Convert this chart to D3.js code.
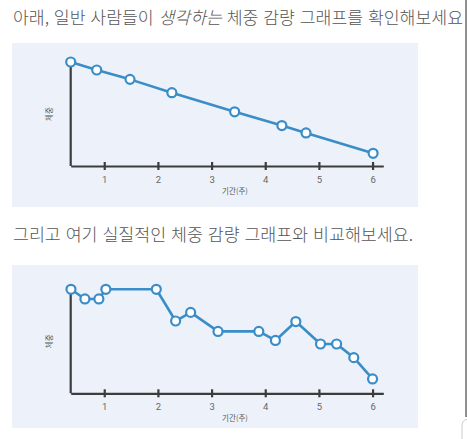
<!DOCTYPE html>
<html lang="ko">
<head>
<meta charset="UTF-8">
<title>체중 감량 그래프</title>
<style>
  body { margin: 0; background: #fff; }
  svg { display: block; }
  text { font-family: "Noto Sans CJK KR", "Noto Sans", sans-serif; }
</style>
<script src="https://cdn.jsdelivr.net/npm/d3@7"></script>
</head>
<body>
<script>
// 데이터 (주, 상대 체중)
const weekTicks = [1, 2, 3, 4, 5, 6];
const idealWeeks = [0.375, 0.86, 1.48, 2.26, 3.43, 4.31, 4.76, 6.01];
const idealWeight = [100, 92.3, 83.3, 70.5, 52.1, 38.9, 31.8, 12.2];
const realWeeks = [0.38, 0.64, 0.9, 1.03, 1.97, 2.33, 2.61, 3.12, 3.88, 4.19, 4.57, 5.03, 5.33, 5.65, 6.0];
const realWeight = [100, 90.7, 90.7, 100, 100, 69.5, 77.8, 59.5, 59.5, 50.8, 69.0, 47.4, 47.4, 34.3, 13.8];

const width = 467, height = 439;
const blue = "#3a8dc6";

const svg = d3.select("body").append("svg")
    .attr("width", width).attr("height", height);

// 제목 1
const t1 = svg.append("text")
    .attr("x", 13).attr("y", 24)
    .attr("font-size", 17.5).attr("font-weight", 300).attr("fill", "#555")
    .attr("textLength", 450).attr("lengthAdjust", "spacingAndGlyphs");
t1.append("tspan").text("아래, 일반 사람들이 ");
t1.append("tspan").attr("font-style", "italic").text("생각하는");
t1.append("tspan").text(" 체중 감량 그래프를 확인해보세요");

// 제목 2
svg.append("text")
    .attr("x", 13).attr("y", 241)
    .attr("font-size", 17.5).attr("font-weight", 300).attr("fill", "#555")
    .attr("textLength", 400).attr("lengthAdjust", "spacingAndGlyphs")
    .text("그리고 여기 실질적인 체중 감량 그래프와 비교해보세요.");

// 오른쪽 스크롤 라인
svg.append("line")
    .attr("x1", 466).attr("x2", 466).attr("y1", 0).attr("y2", 417)
    .attr("stroke", "#6a6a6a").attr("stroke-width", 1.5);
svg.append("path")
    .attr("d", "M462,439 L462,426 Q462,419 469,419")
    .attr("fill", "none").attr("stroke", "#ccc").attr("stroke-width", 1);

const x = d3.scaleLinear().domain([0.375, 6.2]).range([70.7, 383.3]);

function drawPanel(top, bottom, axisY, weeks, weights) {
    svg.append("rect")
        .attr("x", 12).attr("y", top)
        .attr("width", 406).attr("height", bottom - top)
        .attr("fill", "#edf2fa");

    const y = d3.scaleLinear().domain([0, 100]).range([axisY, axisY - 104]);

    const g = svg.append("g");

    // y 축 선
    g.append("line")
        .attr("x1", x(0.375)).attr("x2", x(0.375))
        .attr("y1", y(100)).attr("y2", axisY)
        .attr("stroke", "#3c3c3c").attr("stroke-width", 2.2);

    // x 축
    const ax = g.append("g")
        .attr("transform", `translate(0,${axisY})`)
        .call(d3.axisBottom(x).tickValues(weekTicks).tickSize(0).tickPadding(10).tickFormat(d3.format("d")));
    ax.select(".domain").attr("stroke", "#3c3c3c").attr("stroke-width", 2.2);
    ax.selectAll(".tick line")
        .attr("y1", -4).attr("y2", 4)
        .attr("stroke", "#3c3c3c").attr("stroke-width", 2.2);
    ax.selectAll(".tick text")
        .attr("fill", "#666").attr("font-size", 9.5)
        .style("font-family", "Roboto, sans-serif");

    // 축 제목
    g.append("text")
        .attr("x", 235).attr("y", axisY + 28)
        .attr("text-anchor", "middle")
        .attr("font-size", 7.5).attr("fill", "#555")
        .text("기간(주)");
    g.append("text")
        .attr("transform", `translate(52,${axisY - 52}) rotate(-90)`)
        .attr("text-anchor", "middle")
        .attr("font-size", 7.5).attr("fill", "#555")
        .text("체중");

    const pts = weeks.map((w, i) => [w, weights[i]]);

    g.append("path")
        .datum(pts)
        .attr("fill", "none")
        .attr("stroke", blue).attr("stroke-width", 2.6)
        .attr("stroke-linejoin", "round")
        .attr("d", d3.line().x(d => x(d[0])).y(d => y(d[1])));

    g.selectAll("circle")
        .data(pts)
        .enter()
        .append("circle")
        .attr("cx", d => x(d[0]))
        .attr("cy", d => y(d[1]))
        .attr("r", 4.5)
        .attr("fill", "#fff")
        .attr("stroke", blue).attr("stroke-width", 2.2);
}

drawPanel(43, 207, 166, idealWeeks, idealWeight);
drawPanel(265, 428, 393.3, realWeeks, realWeight);
</script>
</body>
</html>
